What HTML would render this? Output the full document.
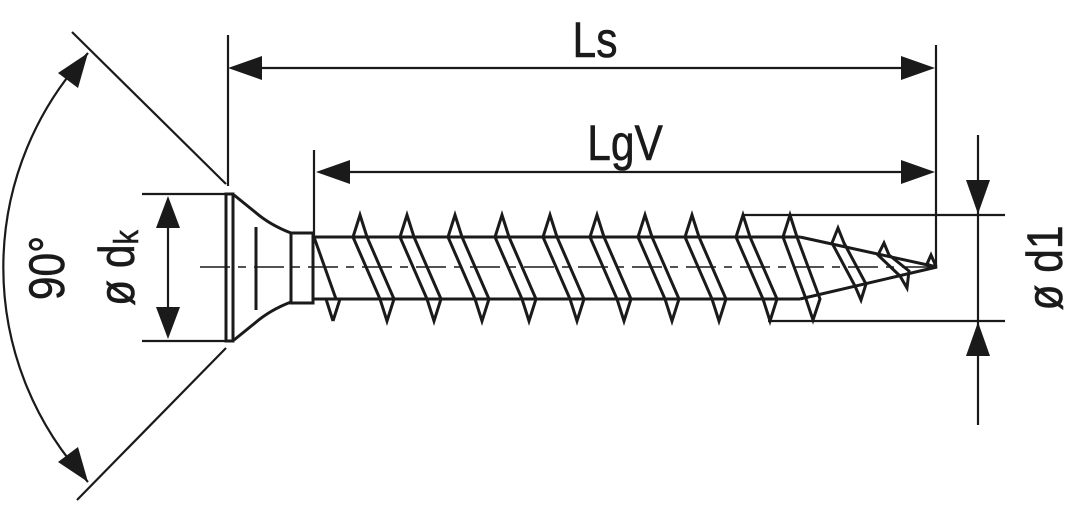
<!DOCTYPE html>
<html><head><meta charset="utf-8"><style>
html,body{margin:0;padding:0;background:#fff;}
svg{display:block;}
text{font-family:"Liberation Sans",sans-serif;fill:#1a1a1a;stroke:#1a1a1a;stroke-width:0.6;}
</style></head><body>
<svg width="1080" height="505" viewBox="0 0 1080 505" xmlns="http://www.w3.org/2000/svg">
<g stroke="#1a1a1a" fill="none" stroke-width="2.2">
<line x1="72" y1="32" x2="226" y2="184"/>
<line x1="226" y1="348" x2="77" y2="500"/>
<path d="M88 53 A314 314 0 0 0 88 482"/>
<line x1="142" y1="194" x2="226" y2="194"/>
<line x1="142" y1="341" x2="226" y2="341"/>
<line x1="168" y1="210" x2="168" y2="325"/>
<line x1="228" y1="35" x2="228" y2="186"/>
<line x1="936" y1="45" x2="936" y2="267"/>
<line x1="240" y1="68" x2="924" y2="68"/>
<line x1="314" y1="150" x2="314" y2="236"/>
<line x1="326" y1="172" x2="924" y2="172"/>
<line x1="743" y1="215" x2="1005" y2="215"/>
<line x1="768" y1="321" x2="1005" y2="321"/>
<line x1="978" y1="135" x2="978" y2="425"/>
<line x1="200" y1="267" x2="930" y2="267" stroke-width="1.5" stroke-dasharray="30,8,8,8"/>
</g>
<g fill="#1a1a1a">
<polygon points="228,68 262,56 262,80"/>
<polygon points="935,68 901,56 901,80"/>
<polygon points="316,172 350,160 350,184"/>
<polygon points="935,172 901,160 901,184"/>
<polygon points="168,196 156,228 180,228"/>
<polygon points="168,339 156,307 180,307"/>
<polygon points="978,214 966,180 990,180"/>
<polygon points="978,322 966,356 990,356"/>
<polygon points="88,53 58,73 78,88"/>
<polygon points="88,482 58,462 78,447"/>
</g>
<g stroke="#1a1a1a" fill="none" stroke-width="3" stroke-linejoin="miter">
<rect x="226" y="194" width="7" height="147"/>
<path d="M234 195 L255 212 Q270 225 291 233"/>
<path d="M234 340 L255 323 Q270 310 291 302"/>
<line x1="256" y1="227" x2="256" y2="310"/>
<rect x="291" y="233" width="22" height="70"/>
<line x1="313" y1="237" x2="800" y2="237"/>
<line x1="313" y1="299" x2="800" y2="299"/>
<path d="M800 237 L937 267 L800 299"/>
<path d="M314 237 L336 299"/>
<path d="M360 215 L367 237 L394 299 L387 321 L380 299 L353 237 Z"/>
<path d="M407 215 L414 237 L441 299 L434 321 L427 299 L400 237 Z"/>
<path d="M455 215 L462 237 L489 299 L482 321 L475 299 L448 237 Z"/>
<path d="M502 215 L509 237 L536 299 L529 321 L522 299 L495 237 Z"/>
<path d="M550 215 L557 237 L584 299 L577 321 L570 299 L543 237 Z"/>
<path d="M597 215 L604 237 L631 299 L624 321 L617 299 L590 237 Z"/>
<path d="M645 215 L652 237 L679 299 L672 321 L665 299 L638 237 Z"/>
<path d="M692 215 L699 237 L726 299 L719 321 L712 299 L685 237 Z"/>
<path d="M743 215 L750 237 L777 299 L770 321 L763 299 L736 237 Z"/>
<path d="M790 215 L797 237 L820 299 L813 320 L806 299 L783 237 Z"/>
<path d="M838 228 L844 243 L866 284 L861 300 L855 286 L832 243 Z"/>
<path d="M884 243 L889 255 L909 271 L907 288 L900 276 L878 255 Z"/>
<path d="M931 255 L935 264 L934 267 L927 264 Z"/>
<line x1="333" y1="321" x2="340" y2="299"/>
<line x1="333" y1="321" x2="326" y2="299"/>
</g>
<text transform="translate(595,57) scale(0.85,1)" font-size="50" text-anchor="middle">Ls</text>
<text transform="translate(625,160) scale(0.85,1)" font-size="50" text-anchor="middle">LgV</text>
<text transform="translate(64,268) rotate(-90) scale(0.85,1)" font-size="50" text-anchor="middle">90°</text>
<text transform="translate(134,268) rotate(-90) scale(0.85,1)" font-size="50" text-anchor="middle">ø d<tspan font-size="34" dy="4">k</tspan></text>
<text transform="translate(1062,268) rotate(-90) scale(0.85,1)" font-size="50" text-anchor="middle">ø d1</text>
</svg>
</body></html>
